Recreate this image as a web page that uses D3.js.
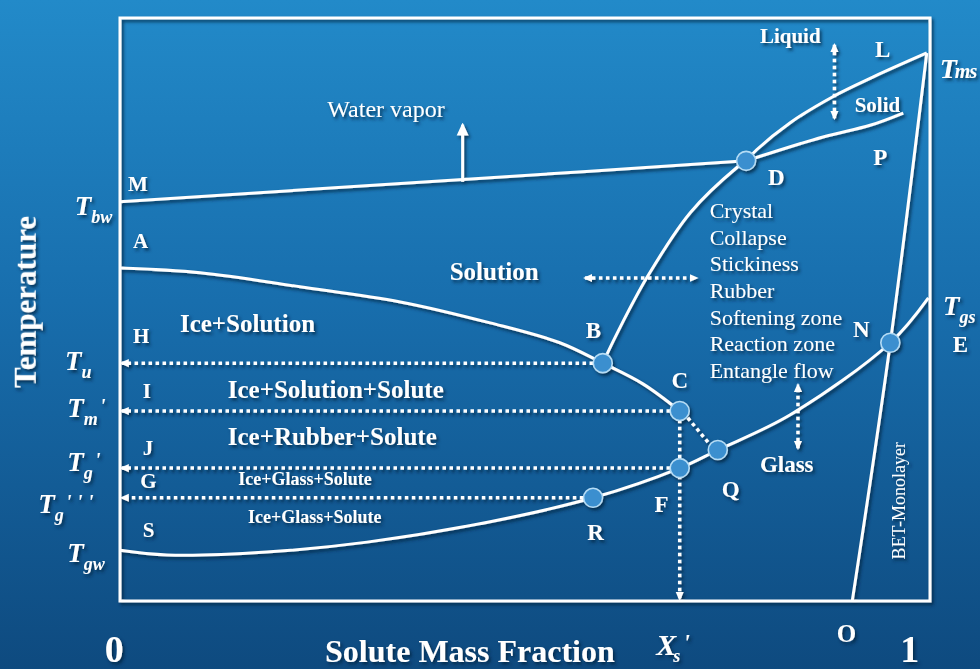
<!DOCTYPE html>
<html>
<head>
<meta charset="utf-8">
<script src="https://cdn.jsdelivr.net/npm/d3@7"></script>
<style>
  body { margin: 0; background: #1a6aa5; }
  svg { display: block; }
  text { font-family: "Liberation Serif", "DejaVu Serif", serif; fill: #fff; }
</style>
</head>
<body>
<svg id="chart" width="980" height="669"></svg>
<script>
// curves as [solute mass fraction, relative temperature]
const vaporCurve = [[0, 0.685], [0.457, 0.726], [0.773, 0.755]]
const solidCurve = [[0.773, 0.755], [0.868, 0.796], [0.926, 0.816], [0.967, 0.837]]
const liquidCurve = [[0.773, 0.755], [0.786, 0.774], [0.827, 0.820], [0.880, 0.865], [0.930, 0.899], [0.996, 0.940]]
const freezingCurve = [[0, 0.571], [0.099, 0.563], [0.222, 0.539], [0.346, 0.513], [0.457, 0.477], [0.543, 0.443], [0.596, 0.408], [0.646, 0.372], [0.691, 0.326]]
const solubilityCurve = [[0.596, 0.408], [0.614, 0.460], [0.651, 0.556], [0.704, 0.666], [0.762, 0.744], [0.773, 0.755]]
const glassCurve = [[0, 0.087], [0.058, 0.079], [0.181, 0.084], [0.305, 0.101], [0.457, 0.136], [0.584, 0.177], [0.691, 0.228], [0.738, 0.259], [0.827, 0.319], [0.951, 0.443], [0.998, 0.520]]
const betCurve = [[0.904, 0], [0.951, 0.443], [0.996, 0.940]]

const keyPoints = [
    { id: 'D', x: 0.773, t: 0.755 },
    { id: 'B', x: 0.596, t: 0.408 },
    { id: 'C', x: 0.691, t: 0.326 },
    { id: 'Q', x: 0.738, t: 0.259 },
    { id: 'F', x: 0.691, t: 0.228 },
    { id: 'R', x: 0.584, t: 0.177 },
    { id: 'N', x: 0.951, t: 0.443 }
]
// dotted guides from these points to the temperature axis
const guidePoints = ['B', 'C', 'F', 'R']

// temperature labels: [main, sub, primes, x, t]
const tempLabels = [
    ['T', 'bw', '', -0.056, 0.662],
    ['T', 'u', '', -0.068, 0.396],
    ['T', 'm', "'", -0.065, 0.316],
    ['T', 'g', "'", -0.065, 0.223],
    ['T', 'g', "' ' '", -0.101, 0.151],
    ['T', 'gw', '', -0.065, 0.067],
    ['T', 'gs', '', 1.016, 0.491]
]

// point letters: [letter, x, t, size]
const letters = [
    ['M', 0.010, 0.703, 21], ['A', 0.016, 0.605, 21], ['H', 0.016, 0.443, 21],
    ['I', 0.028, 0.348, 21], ['J', 0.028, 0.250, 21], ['G', 0.025, 0.194, 21],
    ['S', 0.028, 0.110, 21],
    ['B', 0.575, 0.451, 23], ['C', 0.681, 0.365, 23], ['D', 0.800, 0.714, 23],
    ['L', 0.932, 0.933, 23], ['P', 0.930, 0.748, 23], ['N', 0.905, 0.453, 23],
    ['E', 1.028, 0.427, 23], ['Q', 0.743, 0.178, 23], ['F', 0.660, 0.153, 23],
    ['R', 0.577, 0.105, 23], ['O', 0.885, -0.070, 25]
]

// region names: [text, x, t, size, weight]
const regions = [
    ['Water vapor', 0.256, 0.830, 24, 'normal'],
    ['Solution', 0.407, 0.551, 25, 'bold'],
    ['Ice+Solution', 0.074, 0.461, 25, 'bold'],
    ['Ice+Solution+Solute', 0.133, 0.348, 25, 'bold'],
    ['Ice+Rubber+Solute', 0.133, 0.268, 25, 'bold'],
    ['Ice+Glass+Solute', 0.146, 0.199, 18, 'bold'],
    ['Ice+Glass+Solute', 0.158, 0.134, 18, 'bold'],
    ['Liquid', 0.790, 0.957, 21, 'bold'],
    ['Solid', 0.907, 0.839, 21, 'bold'],
    ['Glass', 0.790, 0.221, 23, 'bold']
]

const zones = ['Crystal', 'Collapse', 'Stickiness', 'Rubber', 'Softening zone', 'Reaction zone', 'Entangle flow']

const svg = d3.select('#chart')
const x = d3.scaleLinear().domain([0, 1]).range([120, 930])
const y = d3.scaleLinear().domain([0, 1]).range([601, 18])

let defs = svg.append('defs')
let grad = defs.append('linearGradient').attr('id', 'bg').attr('x1', 0).attr('y1', 0).attr('x2', 0).attr('y2', 1)
grad.append('stop').attr('offset', '0%').attr('stop-color', '#228ac9')
grad.append('stop').attr('offset', '45%').attr('stop-color', '#186ead')
grad.append('stop').attr('offset', '100%').attr('stop-color', '#0e4a7f')

defs.append('filter').attr('id', 'shadow').attr('x', '-20%').attr('y', '-20%').attr('width', '140%').attr('height', '140%')
    .append('feDropShadow')
    .attr('dx', 2).attr('dy', 2.5).attr('stdDeviation', 1.8)
    .attr('flood-color', '#04223d').attr('flood-opacity', 0.75)

defs.append('marker')
    .attr('id', 'tip')
    .attr('viewBox', '0 -5 10 10')
    .attr('refX', 8).attr('refY', 0)
    .attr('markerUnits', 'userSpaceOnUse')
    .attr('markerWidth', 9).attr('markerHeight', 9)
    .attr('orient', 'auto-start-reverse')
    .append('path').attr('d', 'M0,-4.5L10,0L0,4.5Z').attr('fill', '#fff')

defs.append('marker')
    .attr('id', 'bigtip')
    .attr('viewBox', '0 -6 12 12')
    .attr('refX', 10).attr('refY', 0)
    .attr('markerUnits', 'userSpaceOnUse')
    .attr('markerWidth', 13).attr('markerHeight', 13)
    .attr('orient', 'auto')
    .append('path').attr('d', 'M0,-5.5L12,0L0,5.5Z').attr('fill', '#fff')

svg.append('rect').attr('width', 980).attr('height', 669).attr('fill', 'url(#bg)')

let g = svg.append('g').attr('filter', 'url(#shadow)')

// frame
g.append('rect')
    .attr('x', x(0)).attr('y', y(1))
    .attr('width', x(1) - x(0)).attr('height', y(0) - y(1))
    .attr('fill', 'none').attr('stroke', '#fff').attr('stroke-width', 3)

let line = d3.line()
    .x(d => x(d[0]))
    .y(d => y(d[1]))
    .curve(d3.curveCatmullRom.alpha(0.5))

let pt = id => keyPoints.find(p => p.id == id)

// dotted guides
let dotted = (x1, t1, x2, t2, ends) => {
    let l = g.append('line')
        .attr('x1', x(x1)).attr('y1', y(t1))
        .attr('x2', x(x2)).attr('y2', y(t2))
        .attr('stroke', '#fff').attr('stroke-width', 3.5)
        .attr('stroke-dasharray', '3.5,3.5')
    if (ends.includes('end')) l.attr('marker-end', 'url(#tip)')
    if (ends.includes('start')) l.attr('marker-start', 'url(#tip)')
}

guidePoints.forEach(id => {
    let p = pt(id)
    dotted(p.x - 0.012, p.t, 0.002, p.t, ['end'])
})
dotted(pt('C').x, pt('C').t - 0.015, pt('C').x, 0.003, ['end'])
dotted(pt('C').x + 0.01, pt('C').t - 0.012, pt('Q').x - 0.01, pt('Q').t + 0.01, [])

// phase arrows
dotted(0.882, 0.828, 0.882, 0.954, ['start', 'end'])
dotted(0.574, 0.554, 0.712, 0.554, ['start', 'end'])
dotted(0.837, 0.262, 0.837, 0.371, ['start', 'end'])

g.append('line')
    .attr('x1', x(0.423)).attr('y1', y(0.719))
    .attr('x2', x(0.423)).attr('y2', y(0.817))
    .attr('stroke', '#fff').attr('stroke-width', 3)
    .attr('marker-end', 'url(#bigtip)')

// curves
g.selectAll('path.curve')
    .data([vaporCurve, solidCurve, liquidCurve, freezingCurve, solubilityCurve, glassCurve, betCurve])
    .enter()
    .append('path')
    .classed('curve', true)
    .attr('d', line)
    .attr('fill', 'none')
    .attr('stroke', '#fff')
    .attr('stroke-width', 3)

// key points
g.selectAll('circle')
    .data(keyPoints)
    .enter()
    .append('circle')
    .attr('cx', d => x(d.x))
    .attr('cy', d => y(d.t))
    .attr('r', 9.5)
    .attr('fill', '#3a8fcf')
    .attr('stroke', '#b5dcf5')
    .attr('stroke-width', 1.6)

// letters
g.selectAll('text.letter')
    .data(letters)
    .enter()
    .append('text')
    .classed('letter', true)
    .attr('x', d => x(d[1]))
    .attr('y', d => y(d[2]))
    .attr('font-size', d => d[3])
    .attr('font-weight', 'bold')
    .text(d => d[0])

// regions
g.selectAll('text.region')
    .data(regions)
    .enter()
    .append('text')
    .classed('region', true)
    .attr('x', d => x(d[1]))
    .attr('y', d => y(d[2]))
    .attr('font-size', d => d[3])
    .attr('font-weight', d => d[4])
    .text(d => d[0])

g.selectAll('text.zone')
    .data(zones)
    .enter()
    .append('text')
    .classed('zone', true)
    .attr('x', x(0.728))
    .attr('y', (d, i) => y(0.657) + i * 26.7)
    .attr('font-size', 22)
    .text(d => d)

g.append('text')
    .attr('transform', `translate(${x(0.969)},${y(0.172)}) rotate(-90)`)
    .attr('text-anchor', 'middle')
    .attr('font-size', 18)
    .text('BET-Monolayer')

// temperature labels
tempLabels.forEach(d => {
    let t = g.append('text')
        .attr('x', x(d[3]))
        .attr('y', y(d[4]))
        .attr('font-style', 'italic')
        .attr('font-weight', 'bold')
    t.append('tspan').attr('font-size', 27).text(d[0])
    t.append('tspan').attr('font-size', 18).attr('dy', 8).text(d[1])
    if (d[2]) t.append('tspan').attr('font-size', 21).attr('dx', 2).attr('dy', -12).text(d[2])
})

let tms = g.append('text')
    .attr('x', x(1.012)).attr('y', y(0.897))
    .attr('font-style', 'italic').attr('font-weight', 'bold')
tms.append('tspan').attr('font-size', 28).text('T')
tms.append('tspan').attr('font-size', 20).attr('dx', -2).attr('letter-spacing', -1).text('ms')

// axis titles
g.append('text')
    .attr('transform', `translate(${x(-0.104)},${y(0.513)}) rotate(-90)`)
    .attr('text-anchor', 'middle')
    .attr('font-size', 31)
    .attr('font-weight', 'bold')
    .text('Temperature')

g.append('text')
    .attr('x', x(0.432)).attr('y', y(-0.104))
    .attr('text-anchor', 'middle')
    .attr('font-size', 32)
    .attr('font-weight', 'bold')
    .text('Solute Mass Fraction')

g.selectAll('text.end')
    .data([[0, -0.007], [1, 0.975]])
    .enter()
    .append('text')
    .classed('end', true)
    .attr('x', d => x(d[1]))
    .attr('y', y(-0.104))
    .attr('text-anchor', 'middle')
    .attr('font-size', 38)
    .attr('font-weight', 'bold')
    .text(d => d[0])

let xs = g.append('text')
    .attr('x', x(0.662)).attr('y', y(-0.092))
    .attr('font-style', 'italic').attr('font-weight', 'bold')
xs.append('tspan').attr('font-size', 30).text('X')
xs.append('tspan').attr('font-size', 18).attr('dx', -3).attr('dy', 7).text('s')
xs.append('tspan').attr('font-size', 24).attr('dx', 3).attr('dy', -12).text("'")
</script>
</body>
</html>
